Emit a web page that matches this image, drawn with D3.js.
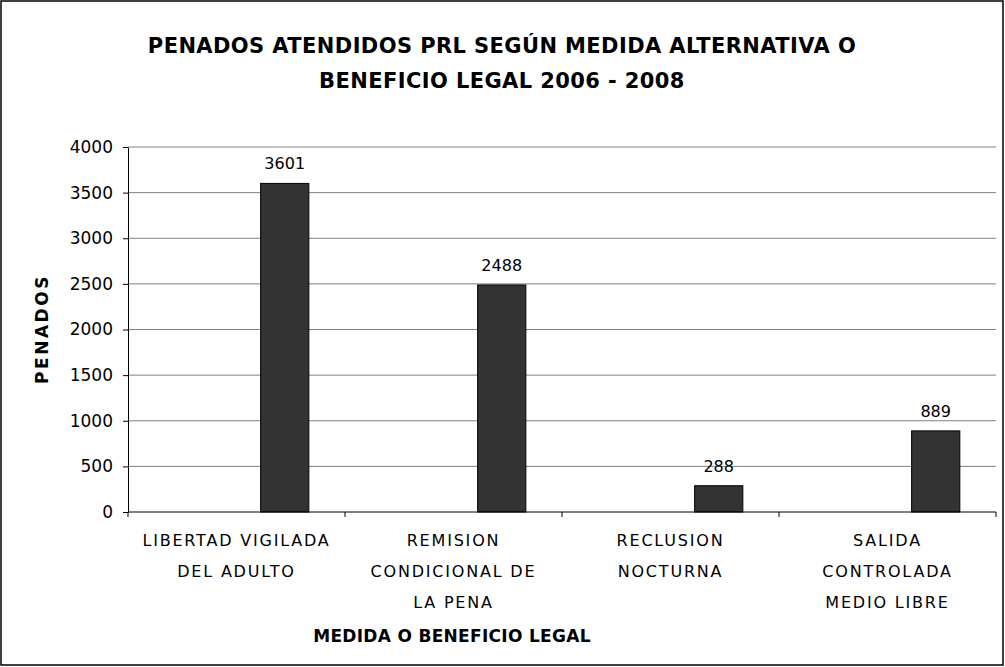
<!DOCTYPE html>
<meta charset="utf-8">
<script src="https://d3js.org/d3.v7.min.js"></script>
<style>
  body { margin: 0; background: #fff; }
  text { font-family: "DejaVu Sans", Verdana, sans-serif; fill: #000; }
</style>
<div id="my_dataviz"></div>
<script>

// data
var categories = ["LIBERTAD VIGILADA DEL ADULTO", "REMISION CONDICIONAL DE LA PENA", "RECLUSION NOCTURNA", "SALIDA CONTROLADA MEDIO LIBRE"];
var categoryLines = [["LIBERTAD VIGILADA", "DEL ADULTO"], ["REMISION", "CONDICIONAL DE", "LA PENA"], ["RECLUSION", "NOCTURNA"], ["SALIDA", "CONTROLADA", "MEDIO LIBRE"]];
var penados = [3601, 2488, 288, 889];
var yTicks = [0, 500, 1000, 1500, 2000, 2500, 3000, 3500, 4000];
var titleLines = ["PENADOS ATENDIDOS PRL SEGÚN MEDIDA ALTERNATIVA O", "BENEFICIO LEGAL 2006 - 2008"];

var W = 1005, H = 667;
var margin = {top: 147, right: 9, bottom: 155, left: 128},
    width = W - margin.left - margin.right,
    height = H - margin.top - margin.bottom;

var root = d3.select("#my_dataviz").append("svg")
    .attr("width", W).attr("height", H);

// outer frame
root.append("rect")
    .attr("x", 1).attr("y", 1).attr("width", W - 3).attr("height", H - 3)
    .attr("fill", "none").attr("stroke", "#000").attr("stroke-width", 1.5);

// title
root.append("text")
    .attr("text-anchor", "middle")
    .attr("x", 502)
    .style("font-size", "21px").style("font-weight", "bold")
    .style("letter-spacing", "0.4px")
  .selectAll("tspan").data(titleLines).enter().append("tspan")
    .attr("x", 502)
    .attr("y", function(d, i) { return 53 + i * 35; })
    .text(function(d) { return d; });

var svg = root.append("g")
    .attr("transform", "translate(" + margin.left + "," + margin.top + ")");

var x = d3.scaleBand().domain(categories).range([0, width]);
// three slots per category (Excel style), only the last one holds the bar
var xSub = d3.scaleBand().domain(["s1", "s2", "s3"]).range([0, x.bandwidth()])
    .paddingInner(0).paddingOuter(0.75);
var y = d3.scaleLinear().domain([0, 4000]).range([height, 0]);

// gridlines
svg.selectAll("grid").data(yTicks.filter(function(d) { return d > 0; })).enter()
  .append("line")
    .attr("x1", 0).attr("x2", width)
    .attr("y1", function(d) { return y(d); }).attr("y2", function(d) { return y(d); })
    .attr("stroke", "#808080").attr("stroke-width", 1);

// bars
svg.selectAll("bar").data(penados).enter().append("rect")
    .attr("x", function(d, i) { return x(categories[i]) + xSub("s3"); })
    .attr("y", function(d) { return y(d); })
    .attr("width", xSub.bandwidth())
    .attr("height", function(d) { return height - y(d); })
    .attr("fill", "#333333").attr("stroke", "#000").attr("stroke-width", 1);

// value labels
svg.selectAll("vlab").data(penados).enter().append("text")
    .attr("text-anchor", "middle")
    .attr("x", function(d, i) { return x(categories[i]) + xSub("s3") + xSub.bandwidth() / 2; })
    .attr("y", function(d) { return y(d) - 14; })
    .style("font-size", "16px")
    .text(function(d) { return d; });

// Y axis
var yAxis = svg.append("g")
    .call(d3.axisLeft(y).tickValues(yTicks).tickFormat(d3.format("d"))
      .tickSize(5).tickSizeOuter(0).tickPadding(10));
yAxis.select(".domain").attr("stroke", "#000");
yAxis.selectAll("text").style("font-size", "17px").style("font-family", "DejaVu Sans, sans-serif");
// small extension of the y axis below zero
svg.append("line").attr("x1", 0).attr("x2", 0).attr("y1", height).attr("y2", height + 5).attr("stroke", "#000");

// X axis
svg.append("line")
    .attr("x1", 0).attr("x2", width).attr("y1", height).attr("y2", height)
    .attr("stroke", "#000");
svg.selectAll("xtick").data(categories.slice(1).concat([null])).enter().append("line")
    .attr("x1", function(d) { return d ? x(d) : width; })
    .attr("x2", function(d) { return d ? x(d) : width; })
    .attr("y1", height).attr("y2", height + 5)
    .attr("stroke", "#000");

// category labels
svg.selectAll("clab").data(categoryLines).enter().append("text")
    .attr("text-anchor", "middle")
    .style("font-size", "16px").style("letter-spacing", "1.8px")
  .each(function(lines, i) {
    d3.select(this).selectAll("tspan").data(lines).enter().append("tspan")
      .attr("x", x(categories[i]) + x.bandwidth() / 2)
      .attr("y", function(d, j) { return height + 34 + j * 31; })
      .text(function(d) { return d; });
  });

// axis titles
root.append("text")
    .attr("text-anchor", "middle")
    .attr("x", 452)
    .attr("y", 642)
    .style("font-size", "17px").style("font-weight", "bold")
    .style("letter-spacing", "0.3px")
    .text("MEDIDA O BENEFICIO LEGAL");

root.append("text")
    .attr("text-anchor", "middle")
    .attr("transform", "translate(48,329) rotate(-90)")
    .style("font-size", "17px").style("font-weight", "bold")
    .style("letter-spacing", "2.5px")
    .text("PENADOS");

</script>
